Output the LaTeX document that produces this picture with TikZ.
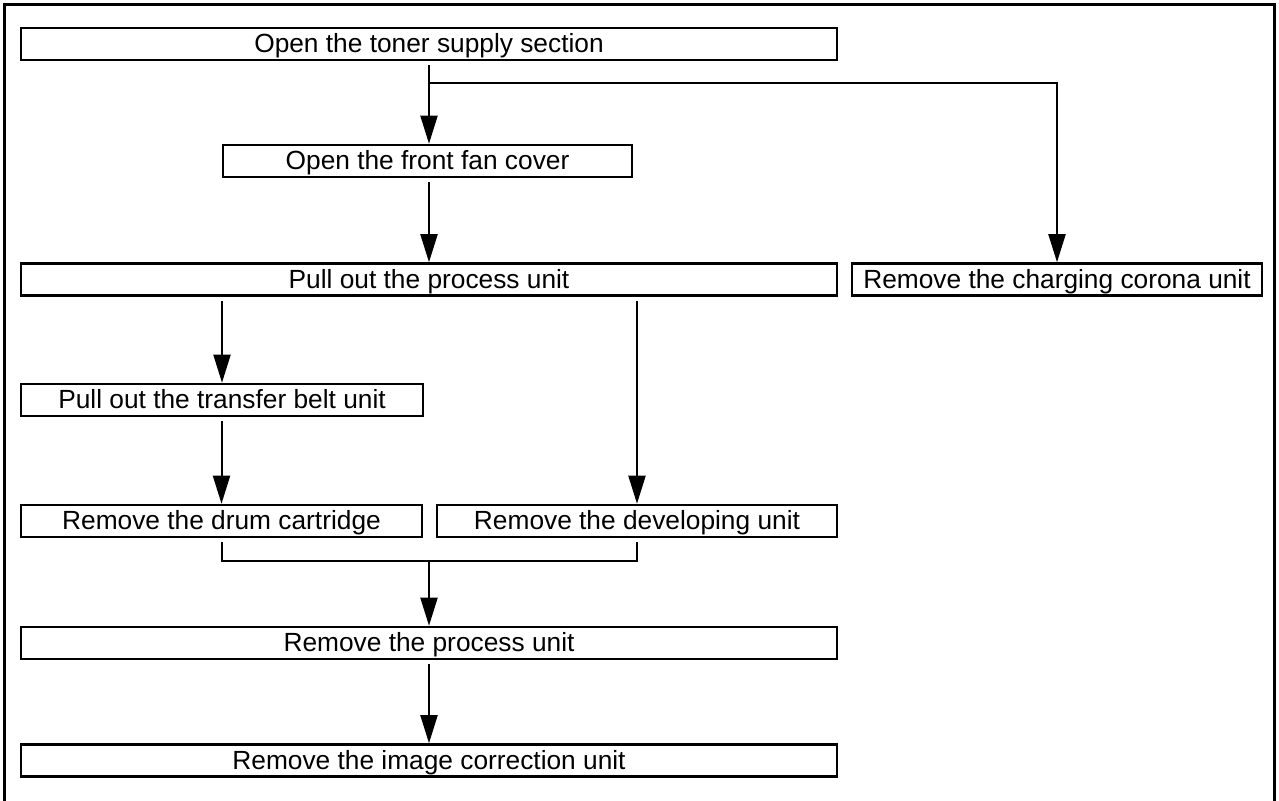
\documentclass[tikz,border=0pt]{standalone}
\usepackage{fontspec}
\setmainfont{Liberation Sans}
\usetikzlibrary{arrows.meta,calc}
\begin{document}
\begin{tikzpicture}[x=0.5pt,y=-0.5pt,
  box/.style={draw,line width=1.3pt,rectangle,inner sep=0pt,minimum height=16pt,
    text height=10.4pt,text depth=1.9pt,font=\fontsize{13.15}{15}\selectfont},
  con/.style={line width=1pt},
  arr/.style={con,-{Triangle[length=14pt,width=8.5pt]}},
]
\useasboundingbox (0,0) rectangle (1279,800);
\draw[line width=1.5pt] (4,812) -- (4,4) -- (1274,4) -- (1274,812);

\node[box,minimum width=408pt]   (b1)  at (429,44)     {Open the toner supply section};
\node[box,minimum width=204.5pt] (b2)  at (427.5,161)  {Open the front fan cover};
\node[box,minimum width=408pt]   (b3)  at (429,279.5)  {Pull out the process unit};
\node[box,minimum width=205pt]   (bc)  at (1057,279.5) {Remove the charging corona unit};
\node[box,minimum width=201pt]   (b4)  at (222,400)    {Pull out the transfer belt unit};
\node[box,minimum width=200.5pt] (b5)  at (221.5,521)  {Remove the drum cartridge};
\node[box,minimum width=200pt]   (dev) at (637,521)    {Remove the developing unit};
\node[box,minimum width=408pt]   (b6)  at (429,643)    {Remove the process unit};
\node[box,minimum width=408pt]   (b7)  at (429,760.5)  {Remove the image correction unit};

\coordinate (br) at (429,83);
\coordinate (m) at (429,561);

\draw[arr] ([yshift=-2pt]b1.south) -- (b1.south |- b2.north);
\draw[arr] (br) -| (bc.north);
\draw[arr] ([yshift=-2pt]b2.south -| b3.north) -- (b3.north);
\draw[arr] ([yshift=-2pt]b3.south -| b4.north) -- (b4.north);
\draw[arr] ([yshift=-2pt]b3.south -| dev.north) -- (dev.north);
\draw[arr] ([yshift=-2pt]b4.south -| b5.north) -- (b5.north);
\draw[con] ([yshift=-2pt]b5.south) |- (m) -| ([yshift=-2pt]dev.south);
\draw[arr] (m) -- (b6.north);
\draw[arr] ([yshift=-2pt]b6.south) -- (b7.north);
\end{tikzpicture}
\end{document}
